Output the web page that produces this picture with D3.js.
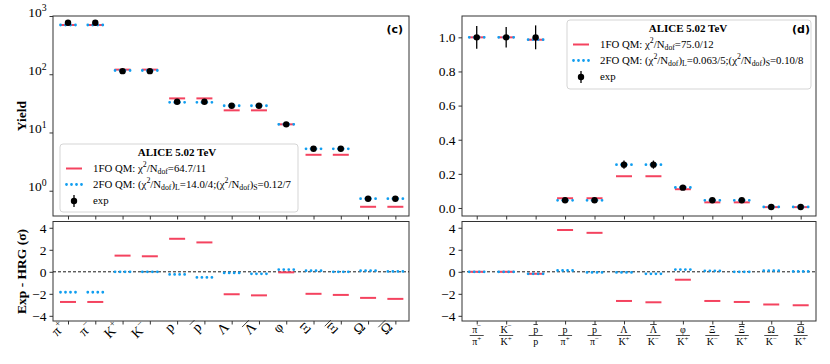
<!DOCTYPE html>
<html>
<head>
<meta charset="utf-8">
<script src="https://cdn.jsdelivr.net/npm/d3@7"></script>
<style>
  body { margin: 0; background: #fff; }
  svg { font-family: "Liberation Serif", serif; }
</style>
</head>
<body>
<svg id="chart" width="830" height="364"></svg>
<script>
// particle labels (base glyph, superscript, overline flag)
const labelBase = ["π", "π", "K", "K", "p", "p", "Λ", "Λ", "φ", "Ξ", "Ξ", "Ω", "Ω"];
const labelSup  = ["+", "−", "+", "−", "", "", "", "", "", "", "", "", ""];
const labelBar  = [0, 0, 0, 0, 0, 1, 0, 1, 0, 0, 1, 0, 1];

// yields (panel c)
const yieldExp = [767, 767, 113, 113, 33.7, 33.7, 28.8, 28.8, 13.8, 5.25, 5.25, 0.73, 0.73];
const yieldErr = [35, 35, 6, 6, 2.4, 2.4, 2.2, 2.2, 1.1, 0.35, 0.35, 0.06, 0.06];
const yield1FO = [700, 700, 120, 120, 38.5, 38.5, 24.0, 24.0, 13.8, 4.14, 4.14, 0.53, 0.53];
const yield2FO = [700, 700, 116, 116, 32.9, 32.9, 28.8, 28.8, 13.8, 5.25, 5.25, 0.73, 0.73];
const resYield1FO = [-2.74, -2.74, 1.47, 1.41, 3.0, 2.67, -2.04, -2.14, -0.05, -2.0, -2.1, -2.37, -2.46];
const resYield2FO = [-1.86, -1.86, 0, 0, -0.24, -0.51, -0.1, -0.18, 0.2, 0.1, 0, 0.1, 0.03];

// ratios (panel d)
const numBase = ["π", "K", "p", "p", "p", "Λ", "Λ", "φ", "Ξ", "Ξ", "Ω", "Ω"];
const numSup  = ["−", "−", "", "", "", "", "", "", "", "", "", ""];
const numBar  = [0, 0, 1, 0, 1, 0, 1, 0, 0, 1, 0, 1];
const denBase = ["π", "K", "p", "π", "π", "K", "K", "K", "K", "K", "K", "K"];
const denSup  = ["+", "+", "", "+", "−", "+", "−", "+", "−", "+", "−", "+"];
const ratioExp = [1.0, 1.0, 1.0, 0.045, 0.045, 0.254, 0.254, 0.119, 0.045, 0.045, 0.0059, 0.0059];
const ratioErr = [0.067, 0.06, 0.07, 0.004, 0.004, 0.024, 0.024, 0.008, 0.004, 0.004, 0.001, 0.001];
const ratio1FO = [1.0, 1.0, 0.986, 0.057, 0.057, 0.186, 0.186, 0.11, 0.033, 0.033, 0.005, 0.005];
const ratio2FO = [1.0, 1.0, 0.986, 0.045, 0.045, 0.254, 0.254, 0.12, 0.045, 0.045, 0.0059, 0.0059];
const resRatio1FO = [0, 0, -0.18, 3.8, 3.54, -2.65, -2.77, -0.72, -2.65, -2.74, -2.97, -3.04];
const resRatio2FO = [0, 0, -0.18, 0.12, -0.06, -0.06, -0.18, 0.2, 0.09, 0, 0.1, 0.03];

const logTicks = [1, 10, 100, 1000];
const linTicks = [0, 0.2, 0.4, 0.6, 0.8, 1.0];
const resTicks = [-4, -2, 0, 2, 4];

const RED = "#f4435f", BLUE = "#109ef0", SPINE = "#333";

const svg = d3.select("#chart");

// scales
const xL = d3.scaleLinear().domain([-0.55, 12.5]).range([53, 409]);
const xR = d3.scaleLinear().domain([-0.5, 11.52]).range([462, 816]);
const yLog = d3.scaleLog().domain([Math.pow(10, -0.434), 1000]).range([216, 16]);
const yLin = d3.scaleLinear().domain([-0.047, 1.125]).range([216, 16]);
const yResL = d3.scaleLinear().domain([-4.47, 4.57]).range([321, 221.5]);
const yResR = yResL.copy();

function rich(text, parts, size) {
  let shift = 0;
  parts.forEach(([t, m]) => {
    const target = m === "sup" ? -0.38 * size : m === "sub" ? 0.22 * size : 0;
    text.append("tspan").text(t)
      .attr("dy", target - shift)
      .attr("font-size", m ? size * 0.72 : size);
    shift = target;
  });
}

function particle(g, base, sup, bar, size, anchor, y) {
  const t = g.append("text").attr("text-anchor", anchor).attr("y", y).attr("font-size", size);
  t.append("tspan").text(base);
  if (sup) t.append("tspan").text(sup).attr("dy", -0.42 * size).attr("font-size", size * 0.7);
  if (bar) {
    const L = t.node().getComputedTextLength();
    const w = t.node().getSubStringLength(0, 1);
    const x0 = anchor === "end" ? -L : anchor === "middle" ? -L / 2 : 0;
    const yb = y - size * 0.8;
    g.append("line").attr("x1", x0 + 0.3).attr("x2", x0 + w - 0.3)
      .attr("y1", yb).attr("y2", yb).attr("stroke", "#000").attr("stroke-width", 0.7);
  }
  return t;
}

function frame(x, y) {
  const [x0, x1] = x.range(), [y0, y1] = y.range();
  svg.append("rect").attr("x", x0).attr("y", y1).attr("width", x1 - x0).attr("height", y0 - y1)
    .attr("fill", "none").attr("stroke", SPINE).attr("stroke-width", 1);
}

function xTicks(x, y, n) {
  const g = svg.append("g").attr("transform", `translate(0,${y.range()[0]})`)
    .call(d3.axisBottom(x).tickValues(d3.range(n)).tickSize(3.5).tickSizeOuter(0).tickFormat(""));
  g.select(".domain").remove();
  g.selectAll(".tick line").attr("stroke", SPINE);
  return g;
}

function yAxis(x, y, ticks, fmt) {
  const g = svg.append("g").attr("transform", `translate(${x.range()[0]},0)`)
    .call(d3.axisLeft(y).tickValues(ticks).tickSize(3.5).tickSizeOuter(0).tickPadding(3).tickFormat(fmt));
  g.select(".domain").remove();
  g.selectAll(".tick line").attr("stroke", SPINE);
  g.selectAll(".tick text").attr("font-family", "Liberation Serif, serif").attr("font-size", 13.5).attr("fill", "#000");
  return g;
}

function models(x, y, m1, m2) {
  svg.append("g").selectAll("line").data(m1).join("line")
    .attr("x1", (d, i) => x(i) - 8).attr("x2", (d, i) => x(i) + 8)
    .attr("y1", d => y(d)).attr("y2", d => y(d))
    .attr("stroke", RED).attr("stroke-width", 2);
  svg.append("g").selectAll("line").data(m2).join("line")
    .attr("x1", (d, i) => x(i) - 7.5).attr("x2", (d, i) => x(i) + 7.6)
    .attr("y1", d => y(d)).attr("y2", d => y(d))
    .attr("stroke", BLUE).attr("stroke-width", 2.8)
    .attr("stroke-linecap", "round").attr("stroke-dasharray", "0 5");
}

function expPoints(x, y, vals, errs) {
  const g = svg.append("g");
  g.selectAll("line").data(vals).join("line")
    .attr("x1", (d, i) => x(i)).attr("x2", (d, i) => x(i))
    .attr("y1", (d, i) => y(d - errs[i])).attr("y2", (d, i) => y(d + errs[i]))
    .attr("stroke", "#000").attr("stroke-width", 1.3);
  g.selectAll("circle").data(vals).join("circle")
    .attr("cx", (d, i) => x(i)).attr("cy", d => y(d)).attr("r", 3.2).attr("fill", "#000");
}

function zeroLine(x, y) {
  svg.append("line").attr("x1", x.range()[0]).attr("x2", x.range()[1])
    .attr("y1", y(0)).attr("y2", y(0))
    .attr("stroke", "#000").attr("stroke-width", 0.9).attr("stroke-dasharray", "3 2");
}

function legend(x, y, w, h, cx, chi1, chi2) {
  const g = svg.append("g");
  g.append("rect").attr("x", x).attr("y", y).attr("width", w).attr("height", h).attr("rx", 3)
    .attr("fill", "#fff").attr("fill-opacity", 0.85).attr("stroke", "#d0d0d0").attr("stroke-width", 0.9);
  g.append("text").attr("x", cx).attr("y", y + 12).attr("text-anchor", "middle")
    .attr("font-size", 11).attr("font-weight", "bold").text("ALICE 5.02 TeV");
  const rows = [y + 27.5, y + 43.5, y + 60];
  const hx = x + 6, tx = x + 33;
  g.append("line").attr("x1", hx).attr("x2", hx + 16).attr("y1", rows[0] - 3).attr("y2", rows[0] - 3)
    .attr("stroke", RED).attr("stroke-width", 2);
  g.append("line").attr("x1", hx + 0.5).attr("x2", hx + 15.6).attr("y1", rows[1] - 3).attr("y2", rows[1] - 3)
    .attr("stroke", BLUE).attr("stroke-width", 2.8).attr("stroke-linecap", "round").attr("stroke-dasharray", "0 5");
  g.append("line").attr("x1", hx + 8).attr("x2", hx + 8).attr("y1", rows[2] - 9).attr("y2", rows[2] + 3)
    .attr("stroke", "#000").attr("stroke-width", 1.3);
  g.append("circle").attr("cx", hx + 8).attr("cy", rows[2] - 3).attr("r", 3.2).attr("fill", "#000");
  rich(g.append("text").attr("x", tx).attr("y", rows[0]), chi1, 10.8);
  rich(g.append("text").attr("x", tx).attr("y", rows[1]), chi2, 10.8);
  g.append("text").attr("x", tx).attr("y", rows[2]).attr("font-size", 10.8).text("exp");
}

// ---------- panel (c): yields ----------
frame(xL, yLog);
xTicks(xL, yLog, 13);
const yl = yAxis(xL, yLog, logTicks, "");
yl.selectAll(".tick text").each(function(d) {
  const t = d3.select(this);
  rich(t, [["10", ""], [String(Math.round(Math.log10(d))), "sup"]], 13.5);
});
models(xL, yLog, yield1FO, yield2FO);
expPoints(xL, yLog, yieldExp, yieldErr);

legend(60, 144, 238, 68, 177,
  [["1FO QM: χ", ""], ["2", "sup"], ["/N", ""], ["dof", "sub"], ["=64.7/11", ""]],
  [["2FO QM: (χ", ""], ["2", "sup"], ["/N", ""], ["dof", "sub"], [")", ""], ["L", "sub"],
   ["=14.0/4;(χ", ""], ["2", "sup"], ["/N", ""], ["dof", "sub"], [")", ""], ["S", "sub"], ["=0.12/7", ""]]);

svg.append("text").attr("x", 403).attr("y", 33).attr("text-anchor", "end")
  .attr("font-family", "DejaVu Sans, sans-serif").attr("font-weight", "bold").attr("font-size", 11).text("(c)");

svg.append("text").attr("transform", "translate(25.5,116) rotate(-90)").attr("text-anchor", "middle")
  .attr("font-size", 13.5).attr("font-weight", "bold").text("Yield");

// residuals (c)
frame(xL, yResL);
xTicks(xL, yResL, 13);
yAxis(xL, yResL, resTicks, d => d < 0 ? "−" + Math.abs(d) : String(d));
zeroLine(xL, yResL);
models(xL, yResL, resYield1FO, resYield2FO);

svg.append("text").attr("transform", "translate(25.5,271.5) rotate(-90)").attr("text-anchor", "middle")
  .attr("font-size", 13.5).attr("font-weight", "bold").text("Exp - HRG (σ)");

labelBase.forEach((b, i) => {
  const g = svg.append("g").attr("transform", `translate(${xL(i) - 2},328) rotate(-45)`);
  particle(g, b, labelSup[i], labelBar[i], 14, "end", 0);
});

// ---------- panel (d): ratios ----------
frame(xR, yLin);
xTicks(xR, yLin, 12);
yAxis(xR, yLin, linTicks, d3.format(".1f"));
models(xR, yLin, ratio1FO, ratio2FO);
expPoints(xR, yLin, ratioExp, ratioErr);

legend(567, 20, 244, 69, 688,
  [["1FO QM: χ", ""], ["2", "sup"], ["/N", ""], ["dof", "sub"], ["=75.0/12", ""]],
  [["2FO QM: (χ", ""], ["2", "sup"], ["/N", ""], ["dof", "sub"], [")", ""], ["L", "sub"],
   ["=0.063/5;(χ", ""], ["2", "sup"], ["/N", ""], ["dof", "sub"], [")", ""], ["S", "sub"], ["=0.10/8", ""]]);

svg.append("text").attr("x", 810).attr("y", 33).attr("text-anchor", "end")
  .attr("font-family", "DejaVu Sans, sans-serif").attr("font-weight", "bold").attr("font-size", 11).text("(d)");

// residuals (d)
frame(xR, yResR);
xTicks(xR, yResR, 12);
yAxis(xR, yResR, resTicks, d => d < 0 ? "−" + Math.abs(d) : String(d));
zeroLine(xR, yResR);
models(xR, yResR, resRatio1FO, resRatio2FO);

numBase.forEach((b, i) => {
  const g = svg.append("g").attr("transform", `translate(${xR(i)},335.5)`);
  particle(g, b, numSup[i], numBar[i], 10, "middle", -3);
  particle(g, denBase[i], denSup[i], 0, 10, "middle", 9.5);
  g.append("line").attr("x1", -7).attr("x2", 7).attr("y1", 0).attr("y2", 0)
    .attr("stroke", "#000").attr("stroke-width", 0.7);
});
</script>
</body>
</html>
